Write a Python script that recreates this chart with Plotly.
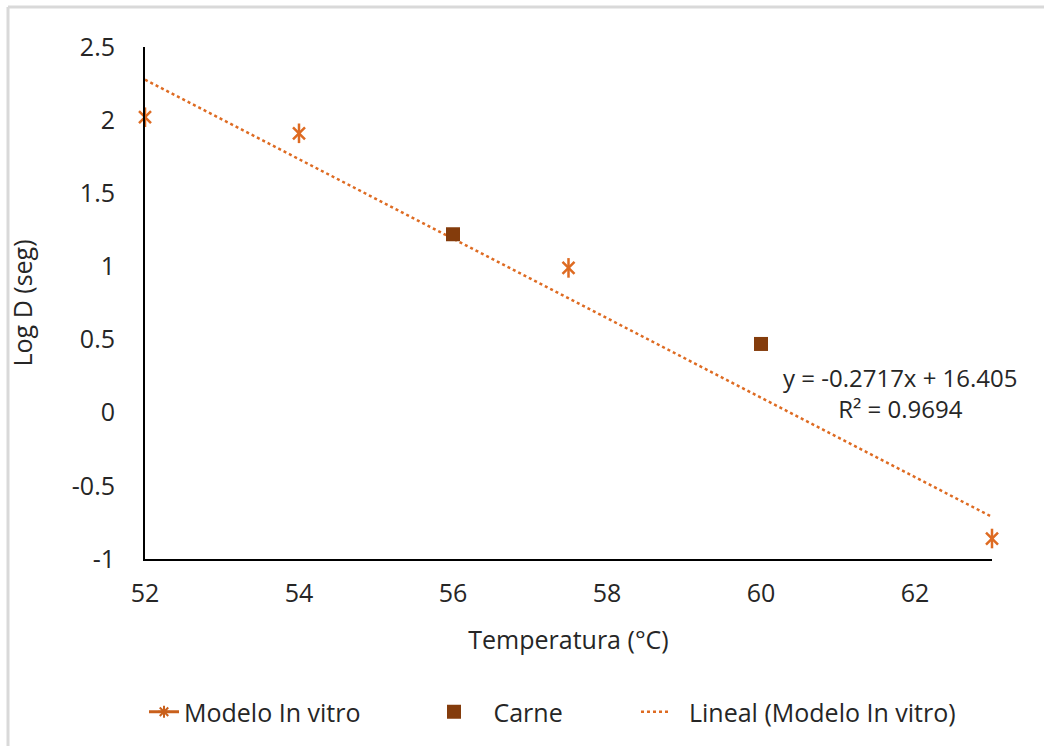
import plotly.graph_objects as go

# Data
invitro_x = [52, 54, 57.5, 63]
invitro_y = [2.02, 1.91, 0.99, -0.86]
carne_x = [56, 60]
carne_y = [1.22, 0.47]
trend_slope = -0.2717
trend_intercept = 16.405
trend_x = [52, 63]
trend_y = [trend_slope * x + trend_intercept for x in trend_x]
x_ticks = [52, 54, 56, 58, 60, 62]
y_ticks = [-1, -0.5, 0, 0.5, 1, 1.5, 2, 2.5]
y_tick_text = ["-1", "-0.5", "0", "0.5", "1", "1.5", "2", "2.5"]

ORANGE = "#DE6B22"
BROWN = "#843C0C"
FONT = "'Open Sans', sans-serif"
TXT = "#262626"
FS = 25

# plot area in pixels (for converting pixel positions to paper coords)
L, R, T, B = 145, 52, 47, 186
PW, PH = 1044 - L - R, 746 - T - B
def px(x):
    return (x - L) / PW
def py(y):
    return (746 - B - y) / PH

fig = go.Figure()

# trend line
fig.add_trace(go.Scatter(
    x=trend_x, y=trend_y, mode="lines", showlegend=False, cliponaxis=False,
    line=dict(color=ORANGE, width=2.5, dash="dot"), hoverinfo="skip"))

# in vitro points (six-arm asterisk: x + vertical line)
fig.add_trace(go.Scatter(
    x=invitro_x, y=invitro_y, mode="markers", showlegend=False, cliponaxis=False,
    marker=dict(symbol="x-thin-open", size=12, color=ORANGE, line=dict(color=ORANGE, width=2.5))))
fig.add_trace(go.Scatter(
    x=invitro_x, y=invitro_y, mode="markers", showlegend=False, cliponaxis=False,
    marker=dict(symbol="line-ns-open", size=14, color=ORANGE, line=dict(color=ORANGE, width=2.5))))

# legend entries (three separate legends for Excel-like spacing)
fig.add_trace(go.Scatter(
    x=[None], y=[None], mode="lines+markers", name="Modelo In vitro", legend="legend",
    line=dict(color="#C9601C", width=3),
    marker=dict(symbol="asterisk-open", size=10, color="#C9601C",
                line=dict(color="#C9601C", width=2))))
fig.add_trace(go.Scatter(
    x=carne_x, y=carne_y, mode="markers", name="\u00a0\u00a0\u00a0Carne", legend="legend2",
    cliponaxis=False,
    marker=dict(symbol="square", size=14, color=BROWN, line=dict(width=0))))
fig.add_trace(go.Scatter(
    x=[None], y=[None], mode="lines", name="\u00a0\u00a0Lineal (Modelo In vitro)",
    legend="legend3",
    line=dict(color=ORANGE, width=2.5, dash="dot")))

fig.add_annotation(x=px(900), y=py(394), xref="paper", yref="paper",
                   text="y = -0.2717x + 16.405<br>R² = 0.9694",
                   showarrow=False, align="center",
                   font=dict(family=FONT, size=24, color=TXT),
                   xanchor="center", yanchor="middle")

# chart frame (light gray)
border = "#D9D9D9"
fig.add_shape(type="line", xref="paper", yref="paper",
              x0=px(8), x1=px(8), y0=py(7), y1=py(800), line=dict(color=border, width=3))
fig.add_shape(type="line", xref="paper", yref="paper",
              x0=px(8), x1=px(1100), y0=py(7), y1=py(7), line=dict(color=border, width=3))

leg_common = dict(orientation="h", yanchor="middle", xanchor="left",
                  font=dict(family=FONT, size=FS, color=TXT), bgcolor="rgba(0,0,0,0)")

fig.update_layout(
    width=1044, height=746,
    margin=dict(l=L, r=R, t=T, b=B),
    paper_bgcolor="white", plot_bgcolor="white",
    font=dict(family=FONT, size=FS, color=TXT),
    legend=dict(x=px(144), y=py(712), **leg_common),
    legend2=dict(x=px(434), y=py(712), **leg_common),
    legend3=dict(x=px(636), y=py(712), **leg_common),
    xaxis=dict(range=[52, 63], tickvals=x_ticks, showgrid=False, zeroline=False,
               showline=True, linecolor="black", linewidth=2, ticks="",
               ticklabelstandoff=11,
               title=dict(text="Temperatura (°C)", standoff=23, font=dict(size=FS))),
    yaxis=dict(range=[-1, 2.5], tickvals=y_ticks, ticktext=y_tick_text,
               showgrid=False, zeroline=False,
               showline=True, linecolor="black", linewidth=2, ticks="",
               ticklabelstandoff=23,
               title=dict(text="Log D (seg)", standoff=32, font=dict(size=FS))),
)

fig.write_html("out.html")
